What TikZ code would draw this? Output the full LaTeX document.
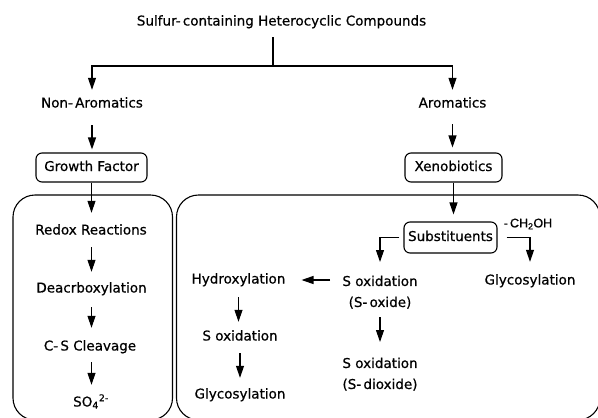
\documentclass[tikz,border=0pt]{standalone}
\usepackage{fontspec}
\setmainfont[FakeBold=0.6]{DejaVu Sans}
\newfontfamily\lsans[FakeBold=0.6]{Liberation Sans}
\usetikzlibrary{arrows.meta}
\begin{document}
\begin{tikzpicture}[x=1pt,y=-1pt,
  txt/.style={font=\fontsize{13.5}{21}\selectfont, inner xsep=0pt, inner ysep=4pt, text height=10pt, text depth=3pt},
  two/.style={font=\fontsize{13.5}{21}\selectfont, inner xsep=0pt, inner ysep=4pt, align=center},
  rbox/.style={txt, draw, line width=1.1pt, rounded corners=6pt, inner ysep=0pt},
  arr/.style={line width=1.1pt, -{Triangle[length=12pt,width=8pt]}},
  ln/.style={line width=1.1pt},
  bigbox/.style={line width=1.1pt, rounded corners=22pt}]
\useasboundingbox (0,0) rectangle (598,418);
\clip (0,0) rectangle (598,418);
% top level
\node[txt] (title) at (281.5,22) {Sulfur-\,containing Heterocyclic Compounds};
\node[txt] (nonar) at (92,104) {Non-\,Aromatics};
\node[txt] (arom) at (452.5,104) {Aromatics};
\node[rbox, minimum width=111pt, minimum height=29pt] (gf) at (91.5,167.5) {Growth Factor};
\node[rbox, minimum width=97pt, minimum height=29pt] (xeno) at (453.5,167.5) {Xenobiotics};
% big boxes
\draw[bigbox] (13,195) rectangle (172.5,420);
\draw[bigbox] (176.5,195) rectangle (600,420);
% left column
\node[txt] (redox) at (91,231) {Redox Reactions};
\node[txt] (deacr) at (91.5,289) {Deacrboxylation};
\node[txt] (cs) at (90,347) {C-\,S Cleavage};
\node[txt] (so4) at (91,403) {SO\textsubscript{4}\textsuperscript{2-}};
% right part
\node[rbox, minimum width=93pt, minimum height=31pt] (subst) at (450.5,237.5) {Substituents};
\node[font=\lsans\fontsize{12.5}{14}\selectfont, inner sep=0pt] (ch2oh) at (528,224) {-\,CH\textsubscript{2}OH};
\node[two, anchor=north] (soxa) at (380,271.5) {S oxidation\\(S-\,oxide)};
\node[txt] (glyr) at (530,281) {Glycosylation};
\node[two, anchor=north] (soxb) at (380,353.5) {S oxidation\\(S-\,dioxide)};
\node[txt] (hyd) at (238.5,280) {Hydroxylation};
\node[txt] (soxc) at (240,337) {S oxidation};
\node[txt] (glyl) at (240,395) {Glycosylation};
% connectors
\coordinate (split) at (273,66);
\draw[ln, shorten <=4.5pt] (split |- title.south) -- (split);
\draw[arr, shorten >=3.5pt] (split) -| (nonar.north);
\draw[arr, shorten >=3.5pt] (split) -| (arom.north);
\draw[arr, shorten <=10.5pt, shorten >=3pt] (nonar.south) -- (nonar.south |- gf.north);
\draw[arr, shorten <=9.5pt, shorten >=5pt] (arom.south) -- (arom.south |- xeno.north);
\draw[arr, shorten >=7.5pt] (gf.south) -- (gf.south |- redox.north);
\draw[arr, shorten <=5.5pt, shorten >=6.5pt] (gf.south |- redox.south) -- (gf.south |- deacr.north);
\draw[arr, shorten <=7.5pt, shorten >=8.5pt] (gf.south |- deacr.south) -- (gf.south |- cs.north);
\draw[arr, shorten <=4.5pt, shorten >=7.5pt] (gf.south |- cs.south) -- (gf.south |- so4.north);
\draw[arr, shorten >=7pt] (xeno.south) -- (xeno.south |- subst.north);
\draw[arr, shorten <=4pt, shorten >=9.5pt] (subst.west) -| (soxa.north);
\draw[arr, shorten <=9pt, shorten >=8.5pt] (subst.east) -| (glyr.north);
\draw[arr, shorten <=12pt, shorten >=16pt] (hyd.east -| soxa.west) -- (hyd.east);
\draw[arr, shorten <=4.5pt, shorten >=11.5pt] (soxa.south) -- (soxb.north);
\draw[arr, shorten <=6.5pt, shorten >=4.5pt] (hyd.south) -- (hyd.south |- soxc.north);
\draw[arr, shorten <=5.5pt, shorten >=6.5pt] (soxc.south) -- (soxc.south |- glyl.north);
\end{tikzpicture}
\end{document}
